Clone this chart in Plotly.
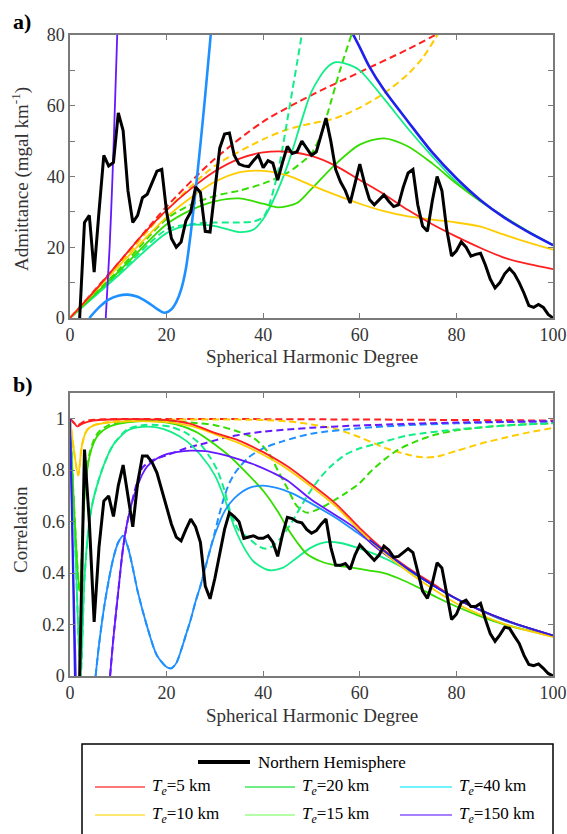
import plotly.graph_objects as go

W, H = 567, 834
FONT = "Liberation Serif, Times New Roman, Times, serif"
AXIS_GREY = "#7a7a7a"
TEXT_GREY = "#333333"

# ---------------- colours of the model curves ----------------
C_RED = "#ff1f1f"
C_YEL = "#ffcc00"
C_GRN = "#33dd00"
C_TEAL = "#11ee88"
C_LBLUE = "#1e90ff"
C_BLUE = "#2020ee"
C_PURP = "#6418ff"
C_OBS = "#000000"

# ---------------- (a) admittance, mgal/km ----------------
adm_obs_deg = list(range(2, 101))
adm_obs = [0, 27, 29, 13, 30, 46, 43, 44, 58, 53,
           36, 27, 29, 34, 35, 38, 41.5, 42, 30, 22.5,
           20, 21.5, 27.5, 30, 37, 35.5, 24.5, 24.3, 37, 48,
           52, 52.3, 46, 43.5, 43, 42.8, 44.5, 46, 42.5, 44.5,
           43.8, 39, 44, 48.5, 46.5, 47, 50, 48, 46, 47,
           52, 56.5, 50, 42, 38.5, 36, 32.5, 38, 43.5, 38,
           33.5, 32, 33.5, 34.8, 33, 31.5, 32, 37, 41, 42,
           32, 26, 24.5, 33, 40, 36, 25, 17.5, 19, 21.5,
           20, 17.5, 18, 18.3, 15, 11, 8.5, 10, 12.5, 14,
           12.5, 10, 7, 3.5, 3, 3.8, 3, 1, 0]

adm_te5_x = [0, 5, 10, 15, 20, 25, 30, 35, 40, 45, 50, 55, 60, 65, 70, 75, 80, 85, 90, 95, 100]
adm_te5_y = [0, 7.5, 15.5, 23.5, 30.5, 36.5, 41.5, 45, 46.8, 47, 45.8, 43, 39, 35, 30.5, 26.5, 23, 19.8, 17, 15.2, 13.8]
adm_te5d_x = [0, 10, 20, 30, 40, 50, 60, 70, 77]
adm_te5d_y = [0, 15.5, 31.5, 45, 55.5, 63, 69.5, 76, 81]

adm_te10_x = [0, 10, 20, 25, 30, 35, 40, 45, 50, 55, 60, 65, 70, 75, 80, 85, 90, 95, 100]
adm_te10_y = [0, 14.5, 28.5, 34, 38.5, 41.2, 41.6, 40.3, 37.5, 34.8, 32.3, 30.2, 28.7, 27.8, 27, 25.8, 23.5, 21.3, 19.3]
adm_te10d_x = [0, 10, 20, 30, 40, 45, 50, 55, 60, 65, 70, 73, 76.5]
adm_te10d_y = [0, 15, 30.5, 43, 50.5, 53.3, 55, 56.5, 59.5, 63.5, 69, 73.5, 81]

adm_grn_x = [0, 10, 20, 25, 30, 35, 40, 43, 47, 50, 55, 60, 65, 70, 75, 80, 85, 90, 95, 100]
adm_grn_y = [0, 13, 26.5, 30.5, 33, 33.8, 32.3, 31.3, 32.5, 36.5, 43.5, 49, 50.8, 48.5, 43.7, 38, 33, 28.5, 24.4, 20.6]
adm_grnd_x = [0, 10, 20, 25, 30, 35, 40, 45, 48, 50, 52, 54, 56, 58.5]
adm_grnd_y = [0, 13.5, 28, 32, 34.5, 36, 38, 41, 44, 46.5, 52, 61, 70.5, 81]

adm_teal_x = [0, 10, 20, 25, 30, 35, 38, 40, 42, 45, 48, 50, 53, 55, 58, 60, 65, 70, 75, 80, 85, 90, 95, 100]
adm_teal_y = [0, 12, 24, 26.3, 26, 24.3, 25, 28, 33, 43, 56, 64, 70.5, 72.3, 71.5, 70, 62, 53.5, 45.7, 38.5, 33, 28.5, 24.3, 20.6]
adm_teald_x = [0, 10, 20, 25, 30, 35, 38, 40, 41, 42, 43, 44, 45, 46, 47, 48.1]
adm_teald_y = [0, 12.5, 25, 26.5, 27, 27, 27.3, 28.5, 31, 35.5, 41, 48, 56, 64, 72, 81]

adm_lblue_x = [4, 6, 8, 10, 12, 14, 16, 18, 19.5, 21, 22, 23, 24, 25, 26, 27, 28, 29.2]
adm_lblue_y = [0, 3, 5.2, 6.3, 6.6, 6, 4.5, 2.6, 1.5, 2.5, 4.5, 8, 14, 24, 36, 49, 63, 81]

adm_purp_x = [7.4, 8.2, 8.8, 9.3, 9.8]
adm_purp_y = [0, 20, 40, 60, 81]

adm_blue_x = [58.3, 60, 62, 65, 70, 75, 80, 85, 90, 95, 100]
adm_blue_y = [81, 76.5, 71, 64.5, 55.5, 46.8, 39.5, 33.3, 28.3, 24.2, 20.6]

# ---------------- (b) correlation ----------------
cor_obs_deg = list(range(2, 101))
cor_obs = [0, 0.88, 0.6, 0.21, 0.5, 0.68, 0.7, 0.62, 0.74, 0.82,
           0.7, 0.58, 0.75, 0.855, 0.855, 0.83, 0.79, 0.72, 0.65, 0.59,
           0.54, 0.525, 0.57, 0.61, 0.58, 0.52, 0.35, 0.3, 0.38, 0.48,
           0.57, 0.635, 0.62, 0.6, 0.535, 0.54, 0.545, 0.535, 0.535, 0.545,
           0.52, 0.465, 0.55, 0.617, 0.612, 0.6, 0.595, 0.57, 0.555, 0.565,
           0.59, 0.61, 0.5, 0.43, 0.43, 0.437, 0.415, 0.47, 0.51, 0.49,
           0.47, 0.45, 0.47, 0.505, 0.49, 0.462, 0.465, 0.48, 0.495, 0.48,
           0.4, 0.33, 0.302, 0.36, 0.44, 0.42, 0.32, 0.22, 0.24, 0.285,
           0.295, 0.27, 0.27, 0.282, 0.22, 0.165, 0.135, 0.16, 0.19, 0.185,
           0.155, 0.127, 0.08, 0.045, 0.04, 0.047, 0.03, 0.01, 0.0]

cor_te5_x = [0, 0.8, 1.5, 2.5, 4, 6, 10, 15, 20, 25, 30, 35, 40, 45, 50, 55, 60, 65, 70, 75, 80, 85, 90, 95, 100]
cor_te5_y = [1, 0.985, 0.97, 0.98, 0.99, 0.995, 0.998, 0.998, 0.995, 0.98, 0.945, 0.915, 0.87, 0.815, 0.745, 0.67, 0.575, 0.49, 0.42, 0.36, 0.3, 0.255, 0.218, 0.186, 0.158]
cor_te5d_x = [0, 1.5, 3, 6, 20, 60, 100]
cor_te5d_y = [1, 0.975, 0.99, 0.997, 0.999, 0.997, 0.993]

cor_te10_x = [0, 0.8, 1.7, 2.5, 3.5, 5, 8, 12, 16, 20, 25, 30, 35, 40, 45, 50, 55, 60, 65, 70, 75, 80, 85, 90, 95, 100]
cor_te10_y = [1, 0.88, 0.78, 0.9, 0.955, 0.975, 0.985, 0.99, 0.99, 0.987, 0.972, 0.94, 0.905, 0.86, 0.805, 0.735, 0.66, 0.565, 0.48, 0.405, 0.34, 0.282, 0.238, 0.202, 0.175, 0.152]
cor_te10d_x = [0, 0.8, 1.7, 2.5, 3.5, 5, 8, 12, 20, 30, 40, 45, 50, 55, 60, 65, 70, 73, 76, 80, 85, 90, 95, 100]
cor_te10d_y = [1, 0.88, 0.78, 0.9, 0.955, 0.975, 0.987, 0.993, 0.996, 0.997, 0.995, 0.99, 0.978, 0.96, 0.928, 0.888, 0.86, 0.85, 0.853, 0.875, 0.903, 0.926, 0.947, 0.964]

cor_grn_x = [0, 1, 2, 3, 4, 5, 6, 8, 10, 14, 18, 22, 26, 30, 33, 36, 40, 43, 45, 47, 49, 52, 55, 58, 62, 65, 68, 72, 76, 80, 85, 90, 95, 100]
cor_grn_y = [1, 0.6, 0.33, 0.7, 0.85, 0.91, 0.94, 0.968, 0.98, 0.99, 0.99, 0.978, 0.95, 0.9, 0.855, 0.8, 0.72, 0.64, 0.575, 0.52, 0.475, 0.445, 0.43, 0.422, 0.41, 0.4, 0.38, 0.345, 0.305, 0.27, 0.232, 0.2, 0.176, 0.153]
cor_grnd_x = [0, 1, 2, 3, 4, 5, 6, 8, 10, 15, 20, 25, 30, 34, 38, 41, 43, 45, 47, 49, 51, 54, 57, 60, 62, 65, 68, 72, 76, 80, 85, 90, 95, 100]
cor_grnd_y = [1, 0.6, 0.33, 0.7, 0.86, 0.92, 0.95, 0.975, 0.985, 0.992, 0.99, 0.985, 0.975, 0.955, 0.925, 0.87, 0.8, 0.73, 0.66, 0.635, 0.645, 0.675, 0.71, 0.75, 0.79, 0.84, 0.88, 0.915, 0.94, 0.955, 0.966, 0.974, 0.979, 0.982]

cor_teal_x = [0, 1.1, 2.2, 3, 4, 5, 7, 9, 12, 15, 18, 21, 24, 27, 30, 32, 34, 36, 38, 41, 44, 47, 50, 53, 56, 60, 63, 66, 70, 75, 80, 85, 90, 95, 100]
cor_teal_y = [1, 0.5, 0.0, 0.38, 0.6, 0.7, 0.82, 0.9, 0.955, 0.968, 0.966, 0.948, 0.915, 0.86, 0.78, 0.69, 0.58, 0.5, 0.445, 0.412, 0.42, 0.46, 0.5, 0.52, 0.517, 0.495, 0.475, 0.45, 0.41, 0.355, 0.3, 0.255, 0.215, 0.185, 0.155]
cor_teald_x = [0, 1.1, 2.2, 3, 4, 5, 7, 9, 12, 15, 18, 21, 24, 27, 29, 30.5, 32, 33, 34, 35, 37, 39, 40.5, 42, 44, 46, 48, 50, 52, 54, 57, 60, 64, 70, 80, 90, 100]
cor_teald_y = [1, 0.5, 0.0, 0.38, 0.6, 0.7, 0.82, 0.9, 0.96, 0.975, 0.976, 0.968, 0.945, 0.9, 0.85, 0.8, 0.72, 0.65, 0.6, 0.565, 0.535, 0.505, 0.495, 0.505, 0.545, 0.6, 0.665, 0.725, 0.775, 0.815, 0.86, 0.885, 0.905, 0.935, 0.958, 0.973, 0.983]

cor_lblue_x = [5.3, 6, 7, 8, 9, 10, 11, 12, 13, 14, 16, 18, 20, 21, 22, 23, 24, 25, 26, 27, 28, 29, 30, 32, 34, 37, 40, 43, 46, 50, 55, 60, 65, 70, 75, 80, 85, 90, 95, 100]
cor_lblue_y = [0, 0.12, 0.26, 0.37, 0.46, 0.52, 0.545, 0.5, 0.42, 0.33, 0.19, 0.08, 0.035, 0.03, 0.05, 0.1, 0.16, 0.22, 0.29, 0.35, 0.42, 0.49, 0.55, 0.64, 0.69, 0.73, 0.74, 0.73, 0.71, 0.67, 0.615, 0.55, 0.485, 0.415, 0.355, 0.3, 0.255, 0.215, 0.185, 0.155]
cor_lblued_x = [5.3, 6, 7, 8, 9, 10, 11, 12, 13, 14, 16, 18, 20, 21, 22, 23, 24, 25, 26, 27, 28, 29, 30, 31, 32, 33, 34, 35, 37, 40, 44, 50, 60, 70, 80, 90, 100]
cor_lblued_y = [0, 0.12, 0.26, 0.37, 0.46, 0.52, 0.545, 0.5, 0.42, 0.33, 0.19, 0.08, 0.035, 0.03, 0.05, 0.1, 0.16, 0.22, 0.29, 0.35, 0.42, 0.49, 0.56, 0.635, 0.7, 0.75, 0.785, 0.81, 0.85, 0.885, 0.912, 0.942, 0.963, 0.975, 0.982, 0.987, 0.99]

cor_purp_x = [0, 0.6, 1.2, None, 8.3, 9, 10, 11, 12, 13, 14, 15, 16, 18, 20, 22, 25, 28, 31, 34, 38, 42, 45, 50, 55, 59, 63, 67, 70, 75, 80, 85, 90, 95, 100]
cor_purp_y = [1, 0.5, 0, None, 0, 0.15, 0.33, 0.5, 0.61, 0.685, 0.74, 0.785, 0.815, 0.845, 0.862, 0.87, 0.876, 0.874, 0.863, 0.848, 0.823, 0.79, 0.76, 0.685, 0.625, 0.575, 0.505, 0.45, 0.415, 0.355, 0.3, 0.256, 0.218, 0.186, 0.157]
cor_purpd_x = [8.3, 9, 10, 11, 12, 13, 14, 15, 17, 20, 24, 28, 32, 36, 40, 45, 50, 60, 70, 80, 90, 100]
cor_purpd_y = [0, 0.15, 0.33, 0.5, 0.61, 0.69, 0.76, 0.81, 0.838, 0.858, 0.885, 0.905, 0.926, 0.94, 0.95, 0.958, 0.965, 0.974, 0.98, 0.985, 0.988, 0.99]

cor_blue_x = [0, 0.5, 1.0, None, 62, 70, 80, 90, 100]
cor_blue_y = [1, 0.5, 0, None, 0.53, 0.416, 0.3, 0.218, 0.158]

# ---------------- legend content ----------------
leg_obs_name = "Northern Hemisphere"
leg_names = ["<i>T</i><sub><i>e</i></sub>=5 km", "<i>T</i><sub><i>e</i></sub>=20 km", "<i>T</i><sub><i>e</i></sub>=40 km",
             "<i>T</i><sub><i>e</i></sub>=10 km", "<i>T</i><sub><i>e</i></sub>=15 km", "<i>T</i><sub><i>e</i></sub>=150 km"]
leg_colors = ["#ff4a4a", "#3fe85a", "#3ff0ff", "#ffde40", "#9dff8a", "#8a55ff"]


def px_x(p):
    return p / W


def px_y(p):
    return 1 - p / H


fig = go.Figure()


def curve(x, y, color, xa, ya, dash=None, width=1.8, spline=True):
    fig.add_trace(go.Scatter(
        x=x, y=y, mode="lines", xaxis=xa, yaxis=ya, showlegend=False,
        hoverinfo="skip",
        line=dict(color=color, width=width, dash=dash,
                  shape="spline" if spline else "linear", smoothing=0.8),
    ))


DASH = "7px,4px"

# panel (a)
for xs, ys, col, d in [
    (adm_te5d_x, adm_te5d_y, C_RED, DASH),
    (adm_te10d_x, adm_te10d_y, C_YEL, DASH),
    (adm_grnd_x, adm_grnd_y, C_GRN, DASH),
    (adm_teald_x, adm_teald_y, C_TEAL, DASH),
    (adm_teal_x, adm_teal_y, C_TEAL, None),
    (adm_grn_x, adm_grn_y, C_GRN, None),
    (adm_te10_x, adm_te10_y, C_YEL, None),
    (adm_te5_x, adm_te5_y, C_RED, None),
    (adm_purp_x, adm_purp_y, C_PURP, None),
]:
    curve(xs, ys, col, "x", "y", dash=d, width=2 if d else 1.8)
curve(adm_lblue_x, adm_lblue_y, C_LBLUE, "x", "y", width=2.6)
curve(adm_blue_x, adm_blue_y, C_BLUE, "x", "y", width=2.6)
curve(adm_obs_deg, adm_obs, C_OBS, "x", "y", width=3, spline=False)

# panel (b)
for xs, ys, col, d in [
    (cor_te5d_x, cor_te5d_y, C_RED, DASH),
    (cor_te10d_x, cor_te10d_y, C_YEL, DASH),
    (cor_grnd_x, cor_grnd_y, C_GRN, DASH),
    (cor_teald_x, cor_teald_y, C_TEAL, DASH),
    (cor_lblued_x, cor_lblued_y, C_LBLUE, DASH),
    (cor_purpd_x, cor_purpd_y, C_PURP, DASH),
    (cor_teal_x, cor_teal_y, C_TEAL, None),
    (cor_grn_x, cor_grn_y, C_GRN, None),
    (cor_lblue_x, cor_lblue_y, C_LBLUE, None),
    (cor_purp_x, cor_purp_y, C_PURP, None),
    (cor_te10_x, cor_te10_y, C_YEL, None),
    (cor_te5_x, cor_te5_y, C_RED, None),
    (cor_blue_x, cor_blue_y, C_BLUE, None),
]:
    curve(xs, ys, col, "x2", "y2", dash=d, width=2 if d else 1.8)
curve(cor_obs_deg, cor_obs, C_OBS, "x2", "y2", width=3, spline=False)

# ---------------- axes ----------------
x_dom = [px_x(70), px_x(553)]
common_axis = dict(
    showline=True, linecolor=AXIS_GREY, linewidth=1.5, mirror="ticks",
    ticks="inside", ticklen=5, tickwidth=1.2, tickcolor=AXIS_GREY,
    showgrid=False, zeroline=False, automargin=False,
    tickfont=dict(family=FONT, size=18, color=TEXT_GREY),
)
x_ticks = [0, 20, 40, 60, 80, 100]

fig.update_layout(
    width=W, height=H, autosize=False,
    margin=dict(l=0, r=0, t=0, b=0, pad=0, autoexpand=False),
    paper_bgcolor="white", plot_bgcolor="white",
    showlegend=False,
    font=dict(family=FONT),
    xaxis=dict(domain=x_dom, range=[0, 100], tickvals=x_ticks, anchor="y", **common_axis),
    yaxis=dict(domain=[px_y(318), px_y(35)], range=[0, 80], tickvals=[0, 20, 40, 60, 80],
               minor=dict(dtick=10, ticks="inside", ticklen=5, tickcolor=AXIS_GREY, tickwidth=1.2),
               anchor="x", **common_axis),
    xaxis2=dict(domain=x_dom, range=[0, 100], tickvals=x_ticks, anchor="y2", **common_axis),
    yaxis2=dict(domain=[px_y(676), px_y(393)], range=[0, 1.1],
                tickvals=[0, 0.2, 0.4, 0.6, 0.8, 1.0],
                ticktext=["0", "0.2", "0.4", "0.6", "0.8", "1"],
                anchor="x2", **common_axis),
)

# ---------------- titles and panel letters ----------------
title_font = dict(family=FONT, size=19, color=TEXT_GREY)
ann = [
    dict(text="Spherical Harmonic Degree", x=px_x(312), y=px_y(356), font=title_font),
    dict(text="Spherical Harmonic Degree", x=px_x(312), y=px_y(715), font=title_font),
    dict(text="Admittance (mgal km<sup>-1</sup>)", x=px_x(20), y=px_y(179), textangle=-90, font=title_font),
    dict(text="Correlation", x=px_x(20), y=px_y(530), textangle=-90, font=title_font),
    dict(text="<b>a)</b>", x=px_x(22), y=px_y(22), font=dict(family=FONT, size=22, color="black")),
    dict(text="<b>b)</b>", x=px_x(23), y=px_y(384), font=dict(family=FONT, size=22, color="black")),
]
for a in ann:
    fig.add_annotation(xref="paper", yref="paper", showarrow=False,
                       xanchor="center", yanchor="middle", **a)

# ---------------- legend box ----------------
shapes = [dict(type="rect", xref="paper", yref="paper",
               x0=px_x(82), x1=px_x(553), y0=px_y(845), y1=px_y(744),
               line=dict(color="black", width=1.5), fillcolor="white", layer="below")]
shapes.append(dict(type="line", xref="paper", yref="paper",
                   x0=px_x(198), x1=px_x(250), y0=px_y(762), y1=px_y(762),
                   line=dict(color="black", width=4)))
leg_font = dict(family=FONT, size=17, color="black")
fig.add_annotation(xref="paper", yref="paper", showarrow=False, text=leg_obs_name,
                   x=px_x(256), y=px_y(762), xanchor="left", yanchor="middle", font=leg_font)
col_line = [(95, 145), (245, 295), (400, 452)]
row_y = [787, 815]
for i, (name, col) in enumerate(zip(leg_names, leg_colors)):
    r, c = divmod(i, 3)
    x0, x1 = col_line[c]
    yy = row_y[r]
    shapes.append(dict(type="line", xref="paper", yref="paper",
                       x0=px_x(x0), x1=px_x(x1), y0=px_y(yy), y1=px_y(yy),
                       line=dict(color=col, width=1.5)))
    fig.add_annotation(xref="paper", yref="paper", showarrow=False, text=name,
                       x=px_x(x1 + 5), y=px_y(yy), xanchor="left", yanchor="middle", font=leg_font)
fig.update_layout(shapes=shapes)

fig.write_html("out.html")
